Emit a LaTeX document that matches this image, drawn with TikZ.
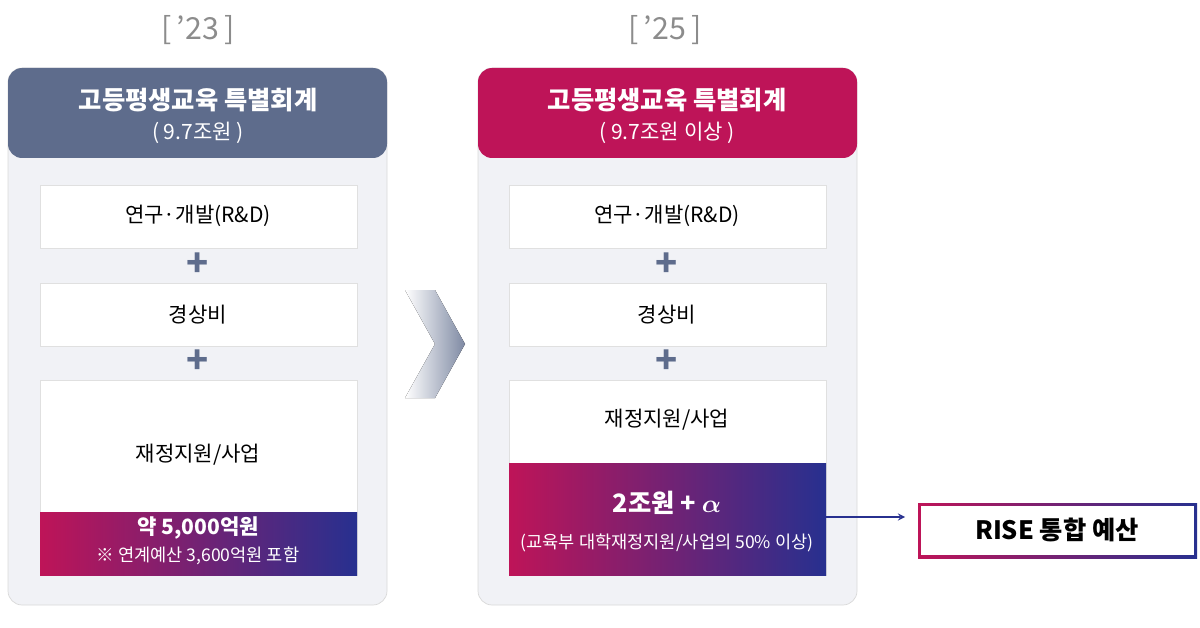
\documentclass[tikz,border=0pt]{standalone}
\usepackage{amsmath}
\usepackage{amssymb}
\usepackage{fontspec}
\setmainfont{Noto Sans CJK KR}
\usetikzlibrary{positioning}
\definecolor{slate}{HTML}{5E6C8C}
\definecolor{crim}{HTML}{BE1458}
\definecolor{navy}{HTML}{27308F}
\definecolor{panel}{HTML}{F1F2F6}
\tikzset{%
  panel/.style = {draw=black!15,fill=panel,rounded corners=8pt},
  head/.style = {rounded corners=8pt,text=white},
  item/.style = {draw=black!12,fill=white},
  txt/.style = {font=\large},
  grad/.style = {left color=crim,right color=navy,text=white},
  plus/.style = {text=slate,font=\bfseries\huge},
  yr/.style = {text=black!45,font=\LARGE}
}
\begin{document}
\begin{tikzpicture}[x=0.02cm,y=-0.02cm]
    \useasboundingbox (0,0) rectangle (1200,628);
    % years
    \node[yr] (y1) at (198,30) {[\,’23\,]};
    \node[yr] (y2) at (665,30) {[\,’25\,]};
    % left panel
    \draw[panel] (8,68) rectangle (387,605);
    \fill[head,fill=slate] (8,68) rectangle (387,158);
    \node[text=white,font=\bfseries\Large] (h1) at (198,100) {고등평생교육 특별회계};
    \node[text=white,font=\large] (s1) at (198,133) {( 9.7조원 )};
    \draw[item] (40,185) rectangle (357,248);
    \node[txt] (a1) at (198,216) {연구·개발(R\&D)};
    \node[plus] (p1) at (198,265) {+};
    \draw[item] (40,283) rectangle (357,346);
    \node[txt] (b1) at (198,315) {경상비};
    \node[plus] (p2) at (198,362) {+};
    \draw[item] (40,380) rectangle (357,575);
    \node[txt] (c1) at (198,455) {재정지원/사업};
    \fill[grad] (40,512) rectangle (357,575);
    \node[text=white,font=\bfseries\large] (d1) at (198,528) {약 5,000억원};
    \node[text=white] (e1) at (198,556) {※ 연계예산 3,600억원 포함};
    % chevron
    \fill[left color=white,right color=slate!80] (405,290) -- (435,290) -- (465,344) -- (435,398) -- (405,398) -- (435,344) -- cycle;
    % right panel
    \draw[panel] (478,68) rectangle (857,605);
    \fill[head,fill=crim] (478,68) rectangle (857,158);
    \node[text=white,font=\bfseries\Large] (h2) at (667,100) {고등평생교육 특별회계};
    \node[text=white,font=\large] (s2) at (667,133) {( 9.7조원 이상 )};
    \draw[item] (509,185) rectangle (826,248);
    \node[txt] (a2) at (667,216) {연구·개발(R\&D)};
    \node[plus] (p3) at (667,265) {+};
    \draw[item] (509,283) rectangle (826,346);
    \node[txt] (b2) at (667,315) {경상비};
    \node[plus] (p4) at (667,362) {+};
    \draw[item] (509,380) rectangle (826,575);
    \node[txt] (c2) at (667,420) {재정지원/사업};
    \fill[grad] (509,463) rectangle (826,575);
    \coordinate (g2) at (826,517);
    \node[text=white,font=\bfseries\Large] (d2) at (667,503) {2조원 + $\boldsymbol{\alpha}$};
    \node[text=white] (e2) at (667,543) {(교육부 대학재정지원/사업의 50\% 이상)};
    % RISE
    \fill[left color=crim,right color=navy] (918,503) rectangle (1197,558);
    \fill[white] (921,506) rectangle (1194,555);
    \node[font=\bfseries\Large] (r) at (1057,530) {RISE 통합 예산};
    \coordinate (r0) at (905,517);
    \draw[navy,thick,-stealth] (g2) -- (r0);
\end{tikzpicture}
\end{document}
